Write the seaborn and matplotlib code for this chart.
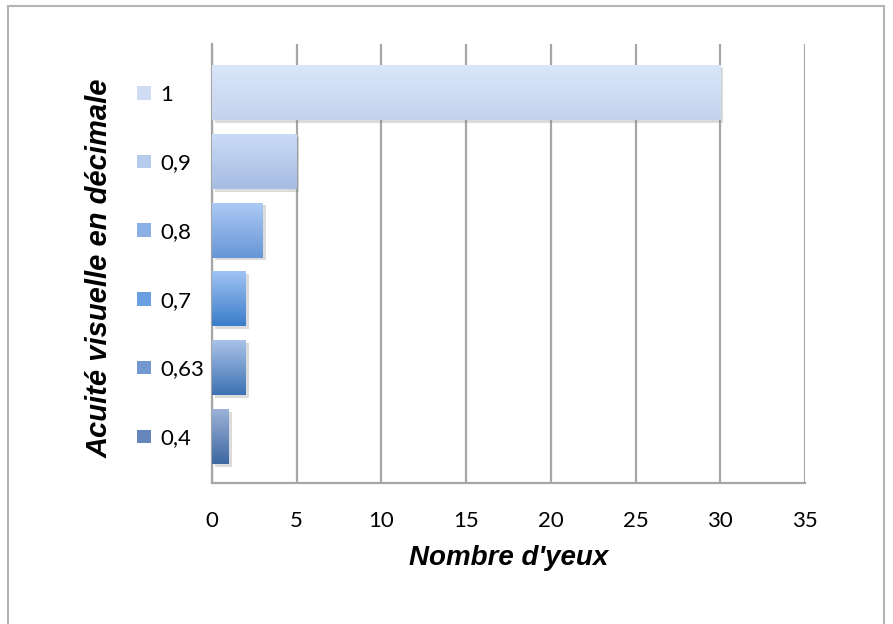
import seaborn as sns
import matplotlib
matplotlib.use("Agg")
import matplotlib.pyplot as plt
import matplotlib.patheffects as pe
from matplotlib import patches, transforms
import numpy as np
import pandas as pd

# données
acuite = ["1", "0,9", "0,8", "0,7", "0,63", "0,4"]
nb_yeux = [30, 5, 3, 2, 2, 1]

# couleurs (haut / bas du dégradé) par catégorie
couleurs_haut = ["#dae6f9", "#c9dbf6", "#acc9f4", "#a0c3f4", "#a9c2e8", "#9db2d8"]
couleurs_bas = ["#c4d2ed", "#a6bce2", "#6796d6", "#3b7dc9", "#3e72b3", "#3d68a1"]
couleurs = ["#cfdcf4", "#b6caec", "#8ab0e6", "#6a9fe0", "#7298cf", "#6685bb"]

df = pd.DataFrame({"Acuité": acuite, "Nombre": nb_yeux})

sns.set_style("white")
plt.rcParams['font.family'] = ['Lato', 'DejaVu Sans']
plt.rcParams['text.color'] = 'black'
plt.rcParams['axes.labelcolor'] = 'black'
plt.rcParams['xtick.color'] = 'black'
plt.rcParams['ytick.color'] = 'black'

fig = plt.figure(figsize=(8.93, 6.24), dpi=100)
ax = fig.add_axes([212 / 893, 1 - 483 / 624, (805 - 212) / 893, (483 - 44) / 624])

sns.barplot(data=df, x="Nombre", y="Acuité", hue="Acuité", palette=couleurs,
            orient="h", width=0.8, legend=False, ax=ax, zorder=3,
            linewidth=0, edgecolor="none")

# dégradé + ombre sur chaque barre
for i, p in enumerate(ax.patches):
    p.set_path_effects([pe.SimplePatchShadow(offset=(2, -2), shadow_rgbFace="#888888",
                                             alpha=0.3), pe.Normal()])
    x0, y0 = p.get_x(), p.get_y()
    x1, y1 = x0 + p.get_width(), y0 + p.get_height()
    c_top = np.array(matplotlib.colors.to_rgb(couleurs_haut[i]))
    c_bot = np.array(matplotlib.colors.to_rgb(couleurs_bas[i]))
    t = np.linspace(0, 1, 64)[:, None, None]
    grad = c_top[None, None, :] * (1 - t) + c_bot[None, None, :] * t
    im = ax.imshow(grad, extent=(x0, x1, y1, y0), origin="upper",
                   aspect="auto", zorder=4)
    im.set_clip_path(p)

ax.set_xlim(0, 35)
ax.set_ylim(5.68, -0.71)
ax.set_xticks(np.arange(0, 36, 5))
ax.grid(axis="x", color="#a6a6a6", linewidth=1.6, zorder=0)
ax.grid(axis="y", visible=False)

for s in ["top", "right"]:
    ax.spines[s].set_visible(False)
for s in ["left", "bottom"]:
    ax.spines[s].set_color("#a6a6a6")
    ax.spines[s].set_linewidth(1.6)

ax.tick_params(axis="x", length=0, pad=20, labelsize=16, labelcolor="black")
ax.tick_params(axis="y", length=0, pad=37, labelsize=16, labelcolor="black")
for lab in ax.get_yticklabels():
    lab.set_horizontalalignment("left")

# petits carrés de légende devant chaque étiquette
trans = transforms.blended_transform_factory(ax.transAxes, ax.transData)
ax.scatter(np.full(len(acuite), -(212 - 144) / 593), range(len(acuite)),
           marker="s", s=95, c=couleurs, transform=trans, clip_on=False,
           edgecolors="none", zorder=5)

ax.set_xlabel("Nombre d'yeux", fontsize=20, fontweight="bold", fontstyle="italic",
              family="Liberation Sans", labelpad=10, color="black")
ax.set_ylabel("Acuité visuelle en décimale", fontsize=21, fontweight="bold",
              fontstyle="italic", family="Liberation Sans", color="black")
ax.yaxis.set_label_coords(-(212 - 114) / 593, 0.49)

# cadre extérieur
fig.patches.append(patches.Rectangle((8 / 893, -0.01), (884 - 8) / 893, 1.01 - 6 / 624,
                                     transform=fig.transFigure, fill=False,
                                     edgecolor="#b4b4b4", linewidth=1.5))

fig.savefig("out.png", dpi=100)
